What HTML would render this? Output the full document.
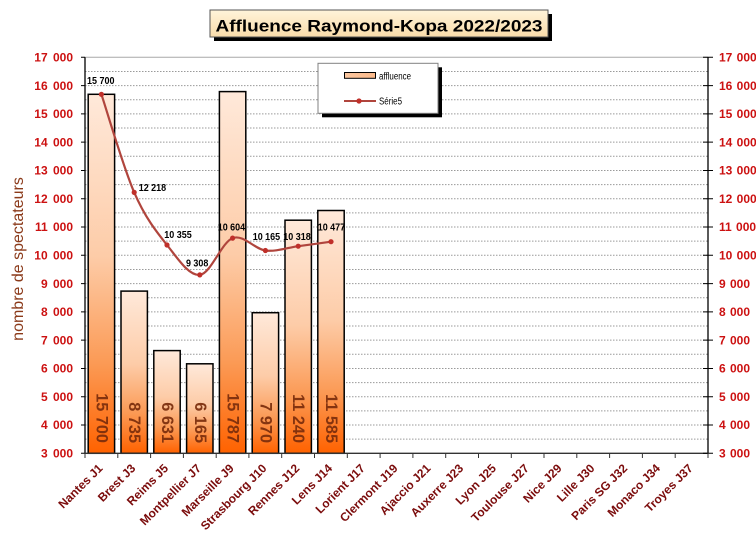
<!DOCTYPE html>
<html><head><meta charset="utf-8"><style>
html,body{margin:0;padding:0;background:#fff;}
svg{display:block;}
text{font-family:"Liberation Sans",Arial,sans-serif;}
</style></head><body>
<svg width="756" height="550" viewBox="0 0 756 550" xmlns="http://www.w3.org/2000/svg">
<defs>
<linearGradient id="bar" x1="0" y1="0" x2="0" y2="1">
<stop offset="0" stop-color="#ffe9da"/>
<stop offset="0.45" stop-color="#fdcca8"/>
<stop offset="0.75" stop-color="#fb9a55"/>
<stop offset="1" stop-color="#ff6200"/>
</linearGradient>
<linearGradient id="sw" x1="0" y1="0" x2="1" y2="0">
<stop offset="0" stop-color="#fbc7a0"/>
<stop offset="1" stop-color="#fbb98a"/>
</linearGradient>
<linearGradient id="tt" x1="0" y1="0" x2="0" y2="1">
<stop offset="0" stop-color="#fff4da"/>
<stop offset="1" stop-color="#f9dcaa"/>
</linearGradient>
</defs>
<rect width="756" height="550" fill="#fff"/>

<!-- title -->
<rect x="214" y="14" width="338" height="27" fill="#000"/>
<rect x="210" y="10" width="338" height="27" fill="url(#tt)" stroke="#555" stroke-width="1"/>
<text x="379" y="31.5" font-size="17" font-weight="bold" text-anchor="middle" textLength="327" lengthAdjust="spacingAndGlyphs" fill="#000">Affluence Raymond-Kopa 2022/2023</text>

<!-- gridlines -->
<path d="M85 439.16H708M85 425.01H708M85 410.87H708M85 396.73H708M85 382.59H708M85 368.44H708M85 354.3H708M85 340.16H708M85 326.01H708M85 311.87H708M85 297.73H708M85 283.59H708M85 269.44H708M85 255.3H708M85 241.16H708M85 227.01H708M85 212.87H708M85 198.73H708M85 184.59H708M85 170.44H708M85 156.3H708M85 142.16H708M85 128.01H708M85 113.87H708M85 99.73H708M85 85.59H708M85 71.44H708" stroke="#9a9a9a" stroke-width="1" stroke-dasharray="1.5 1.5" fill="none"/>
<line x1="85" y1="57.3" x2="708" y2="57.3" stroke="#a8a8a8" stroke-width="1"/>

<!-- bars -->
<g stroke="#000" stroke-width="1.5" fill="url(#bar)">
<rect x="88.2" y="94.3" width="26.4" height="359"/>
<rect x="121.0" y="291.1" width="26.4" height="162.2"/>
<rect x="153.8" y="350.6" width="26.4" height="102.7"/>
<rect x="186.6" y="363.8" width="26.4" height="89.5"/>
<rect x="219.4" y="91.6" width="26.4" height="361.7"/>
<rect x="252.2" y="312.7" width="26.4" height="140.6"/>
<rect x="285.0" y="220.2" width="26.4" height="233.1"/>
<rect x="317.8" y="210.5" width="26.4" height="242.8"/>
</g>

<!-- bar value labels -->
<g font-size="16.3" font-weight="bold" fill="#7a2c0c" fill-opacity="0.92" text-anchor="end" dominant-baseline="central">
<text transform="translate(101.4,443) rotate(90)">15 700</text>
<text transform="translate(134.2,443) rotate(90)">8 735</text>
<text transform="translate(167.0,443) rotate(90)">6 631</text>
<text transform="translate(199.8,443) rotate(90)">6 165</text>
<text transform="translate(232.6,443) rotate(90)">15 787</text>
<text transform="translate(265.4,443) rotate(90)">7 970</text>
<text transform="translate(298.2,443) rotate(90)">11 240</text>
<text transform="translate(331.0,443) rotate(90)">11 585</text>
</g>

<!-- axes -->
<line x1="85" y1="57.3" x2="85" y2="453.3" stroke="#000" stroke-width="1.3"/>
<line x1="708" y1="57.3" x2="708" y2="453.3" stroke="#000" stroke-width="1.3"/>
<line x1="85" y1="453.3" x2="708" y2="453.3" stroke="#333" stroke-width="1.3"/>
<path d="M81 453.3H85M81 425.01H85M81 396.73H85M81 368.44H85M81 340.16H85M81 311.87H85M81 283.59H85M81 255.3H85M81 227.01H85M81 198.73H85M81 170.44H85M81 142.16H85M81 113.87H85M81 85.59H85M81 57.3H85" stroke="#000" stroke-width="1"/>
<path d="M703 453.3H713M703 425.01H713M703 396.73H713M703 368.44H713M703 340.16H713M703 311.87H713M703 283.59H713M703 255.3H713M703 227.01H713M703 198.73H713M703 170.44H713M703 142.16H713M703 113.87H713M703 85.59H713M703 57.3H713" stroke="#000" stroke-width="1"/>
<path d="M85 453.3V458M117.8 453.3V458M150.6 453.3V458M183.4 453.3V458M216.2 453.3V458M248.9 453.3V458M281.7 453.3V458M314.5 453.3V458M347.3 453.3V458M380.1 453.3V458M412.9 453.3V458M445.7 453.3V458M478.5 453.3V458M511.3 453.3V458M544.0 453.3V458M576.8 453.3V458M609.6 453.3V458M642.4 453.3V458M675.2 453.3V458M708 453.3V458" stroke="#333" stroke-width="1"/>

<!-- left tick labels -->
<g font-size="12" font-weight="bold" fill="#cc1111" text-anchor="end" word-spacing="2">
<text x="73" y="457.5">3 000</text>
<text x="73" y="429.2">4 000</text>
<text x="73" y="400.9">5 000</text>
<text x="73" y="372.6">6 000</text>
<text x="73" y="344.4">7 000</text>
<text x="73" y="316.1">8 000</text>
<text x="73" y="287.8">9 000</text>
<text x="73" y="259.5">10 000</text>
<text x="73" y="231.2">11 000</text>
<text x="73" y="202.9">12 000</text>
<text x="73" y="174.6">13 000</text>
<text x="73" y="146.4">14 000</text>
<text x="73" y="118.1">15 000</text>
<text x="73" y="89.8">16 000</text>
<text x="73" y="61.5">17 000</text>
</g>
<!-- right tick labels -->
<g font-size="12" font-weight="bold" fill="#cc1111" text-anchor="start" word-spacing="1">
<text x="719" y="457.5">3 000</text>
<text x="719" y="429.2">4 000</text>
<text x="719" y="400.9">5 000</text>
<text x="719" y="372.6">6 000</text>
<text x="719" y="344.4">7 000</text>
<text x="719" y="316.1">8 000</text>
<text x="719" y="287.8">9 000</text>
<text x="719" y="259.5">10 000</text>
<text x="719" y="231.2">11 000</text>
<text x="719" y="202.9">12 000</text>
<text x="719" y="174.6">13 000</text>
<text x="719" y="146.4">14 000</text>
<text x="719" y="118.1">15 000</text>
<text x="719" y="89.8">16 000</text>
<text x="719" y="61.5">17 000</text>
</g>

<!-- y axis title -->
<text transform="translate(23,259) rotate(-90)" font-size="16" fill="#8b3a1a" text-anchor="middle">nombre de spectateurs</text>

<!-- x labels -->
<g font-size="12" font-weight="bold" fill="#7b0c0c" text-anchor="end">
<text transform="translate(103.4,469) rotate(-45)">Nantes J1</text>
<text transform="translate(136.2,469) rotate(-45)">Brest J3</text>
<text transform="translate(169.0,469) rotate(-45)">Reims J5</text>
<text transform="translate(201.8,469) rotate(-45)">Montpellier J7</text>
<text transform="translate(234.6,469) rotate(-45)">Marseille J9</text>
<text transform="translate(267.4,469) rotate(-45)">Strasbourg J10</text>
<text transform="translate(300.2,469) rotate(-45)">Rennes J12</text>
<text transform="translate(333.0,469) rotate(-45)">Lens J14</text>
<text transform="translate(365.7,469) rotate(-45)">Lorient J17</text>
<text transform="translate(398.5,469) rotate(-45)">Clermont J19</text>
<text transform="translate(431.3,469) rotate(-45)">Ajaccio J21</text>
<text transform="translate(464.1,469) rotate(-45)">Auxerre J23</text>
<text transform="translate(496.9,469) rotate(-45)">Lyon J25</text>
<text transform="translate(529.7,469) rotate(-45)">Toulouse J27</text>
<text transform="translate(562.5,469) rotate(-45)">Nice J29</text>
<text transform="translate(595.3,469) rotate(-45)">Lille J30</text>
<text transform="translate(628.1,469) rotate(-45)">Paris SG J32</text>
<text transform="translate(660.9,469) rotate(-45)">Monaco J34</text>
<text transform="translate(693.6,469) rotate(-45)">Troyes J37</text>
</g>

<!-- line series -->
<path d="M101.4 94.3C106.87 110.65 123.27 167.28 134.2 192.4C145.13 217.52 156.07 231.25 167.0 245.0C177.93 258.75 188.87 276.05 199.8 274.9C210.73 273.75 221.67 242.17 232.6 238.1C243.53 234.03 254.47 249.15 265.4 250.5C276.33 251.85 287.27 247.67 298.2 246.2C309.13 244.73 325.53 242.45 331.0 241.7" fill="none" stroke="#b0453d" stroke-width="2.2"/>
<g fill="#c0302a">
<circle cx="101.4" cy="94.3" r="2.6"/>
<circle cx="134.2" cy="192.4" r="2.6"/>
<circle cx="167.0" cy="245.0" r="2.6"/>
<circle cx="199.8" cy="274.9" r="2.6"/>
<circle cx="232.6" cy="238.1" r="2.6"/>
<circle cx="265.4" cy="250.5" r="2.6"/>
<circle cx="298.2" cy="246.2" r="2.6"/>
<circle cx="331.0" cy="241.7" r="2.6"/>
</g>
<g font-size="10.5" font-weight="bold" fill="#000">
<text x="87" y="84" textLength="27.5" lengthAdjust="spacingAndGlyphs">15 700</text>
<text x="138.7" y="191" textLength="27.5" lengthAdjust="spacingAndGlyphs">12 218</text>
<text x="164.3" y="238" textLength="27.5" lengthAdjust="spacingAndGlyphs">10 355</text>
<text x="186" y="266.7" textLength="22.3" lengthAdjust="spacingAndGlyphs">9 308</text>
<text x="217.7" y="230.7" textLength="27.5" lengthAdjust="spacingAndGlyphs">10 604</text>
<text x="252.7" y="240" textLength="27.5" lengthAdjust="spacingAndGlyphs">10 165</text>
<text x="283.3" y="240" textLength="27.5" lengthAdjust="spacingAndGlyphs">10 318</text>
<text x="317.7" y="230.7" textLength="27.5" lengthAdjust="spacingAndGlyphs">10 477</text>
</g>

<!-- legend -->
<rect x="322" y="67.3" width="120" height="50" fill="#000"/>
<rect x="318" y="63.3" width="120" height="50" fill="#fff" stroke="#808080" stroke-width="1"/>
<rect x="344.5" y="72.5" width="31" height="5.8" fill="url(#sw)" stroke="#000" stroke-width="1"/>
<text x="379" y="79.5" font-size="10" fill="#000" textLength="32" lengthAdjust="spacingAndGlyphs">affluence</text>
<line x1="344" y1="101" x2="376" y2="101" stroke="#b0453d" stroke-width="2"/>
<circle cx="359" cy="101" r="2.6" fill="#c0302a"/>
<text x="379" y="104.5" font-size="10" fill="#000" textLength="23" lengthAdjust="spacingAndGlyphs">Série5</text>
</svg>
</body></html>
